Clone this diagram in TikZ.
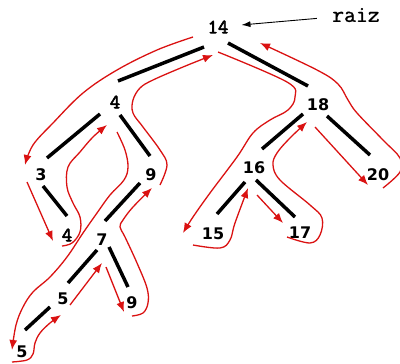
\documentclass[tikz,border=0pt]{standalone}
\usepackage{fontspec}
\setmainfont{DejaVu Sans}
\newfontfamily\keymono[FakeBold=3]{Latin Modern Mono}
\newfontfamily\labelmono[FakeBold=1]{Latin Modern Mono}
\usetikzlibrary{arrows.meta,positioning}
\definecolor{walkred}{RGB}{218,18,18}
\tikzstyle{key}=[inner sep=2pt,font=\fontsize{16}{18}\selectfont\bfseries]
\tikzstyle{mono key}=[key,font=\fontsize{20}{22}\selectfont\keymono]
\tikzstyle{tree edge}=[line width=3.5pt]
\tikzstyle{walk}=[walkred,line width=1.3pt,-{Latex[length=10pt,width=8pt]}]

\begin{document}
\begin{tikzpicture}[x=1pt,y=-1pt]
		\useasboundingbox (0,0) rectangle (400,364);

		% keys of the tree
		\node(n14)[mono key] at (218,27) {14};
		\node(n4a)[mono key] at (115,102) {4};
		\node(n18)[key] at (318,105) {18};
		\node(n3)[key] at (41,175) {3};
		\node(n9a)[key] at (151,175) {9};
		\node(n16)[key] at (254,168) {16};
		\node(n20)[key] at (378,175) {20};
		\node(n4b)[mono key] at (67,235) {4};
		\node(n7)[key] at (102,240) {7};
		\node(n15)[key] at (213,234) {15};
		\node(n17)[key] at (300,233) {17};
		\node(n5a)[key] at (63,299) {5};
		\node(n9b)[key] at (132,303) {9};
		\node(n5b)[key] at (22,352) {5};
		\node(raiz)[font=\fontsize{23}{24}\selectfont\labelmono] at (356,15) {raiz};

		\draw[-{Latex[length=9pt,width=6pt]},line width=0.9pt,shorten <=12pt,shorten >=11pt] (raiz) -- (n14);

		% edges, kept clear of the keys
		\draw[tree edge] ([shift={(-14,20)}]n14.center) -- ([shift={(3,-21)}]n4a.center);
		\draw[tree edge] ([shift={(10,16)}]n14.center) -- ([shift={(-10,-19)}]n18.center);
		\draw[tree edge] ([shift={(-15,12)}]n4a.center) -- ([shift={(6,-17)}]n3.center);
		\draw[tree edge] ([shift={(5,13)}]n4a.center) -- ([shift={(-1,-19)}]n9a.center);
		\draw[tree edge] ([shift={(-15,9)}]n18.center) -- ([shift={(8,-19)}]n16.center);
		\draw[tree edge] ([shift={(9,11)}]n18.center) -- ([shift={(-8,-20)}]n20.center);
		\draw[tree edge] ([shift={(2,11)}]n3.center) -- ([shift={(0,-19)}]n4b.center);
		\draw[tree edge] ([shift={(-11,8)}]n9a.center) -- ([shift={(3,-19)}]n7.center);
		\draw[tree edge] ([shift={(-9,14)}]n16.center) -- ([shift={(4,-20)}]n15.center);
		\draw[tree edge] ([shift={(2,12)}]n16.center) -- ([shift={(-5,-16)}]n17.center);
		\draw[tree edge] ([shift={(-5,10)}]n7.center) -- ([shift={(5,-16)}]n5a.center);
		\draw[tree edge] ([shift={(7,7)}]n7.center) -- ([shift={(-4,-16)}]n9b.center);
		\draw[tree edge] ([shift={(-13,8)}]n5a.center) -- ([shift={(3,-22)}]n5b.center);

		% walk round the tree
		\draw[walk] plot[smooth,tension=0.6] coordinates {(193,37) (157,50) (117,70) (83,93) (53,123) (33,145) (25,165)};
		\draw[walk] (27,182) -- (53,241);
		\draw[walk] plot[smooth,tension=0.6] coordinates {(62,246) (72,243) (80,232) (80,217) (73,203) (67,187) (68,167) (80,152) (93,137) (107,125)};
		\draw[walk] plot[smooth,tension=0.6] coordinates {(117,132) (125,150) (128,167) (124,180) (110,195) (97,213) (83,233) (67,257) (50,277) (33,292) (23,307) (16,325) (12,350)};
		\draw[walk] plot[smooth,tension=0.6] coordinates {(12,362) (27,360) (33,354) (35,343) (40,333) (50,323) (61,315)};
		\draw[walk] (70,305) -- (102,263);
		\draw[walk] (106,267) -- (124,312);
		\draw[walk] plot[smooth,tension=0.6] coordinates {(132,316) (143,313) (148,303) (147,288) (137,263) (125,237) (120,227) (123,220) (133,207) (152,188)};
		\draw[walk] plot[smooth,tension=0.6] coordinates {(160,185) (167,165) (160,150) (143,127) (133,113) (133,100) (140,88) (153,80) (183,67) (213,55)};
		\draw[walk] plot[smooth,tension=0.6] coordinates {(218,52) (287,82) (295,97) (288,110) (270,120) (253,133) (237,157) (210,193) (193,217) (183,233)};
		\draw[walk] plot[smooth,tension=0.6] coordinates {(193,245) (220,248) (230,240) (235,223) (248,188)};
		\draw[walk] (257,195) -- (283,223);
		\draw[walk] plot[smooth,tension=0.6] coordinates {(287,237) (310,243) (320,235) (322,218) (310,205) (280,180) (273,165) (277,153) (290,138) (307,122)};
		\draw[walk] (315,127) -- (368,185);
		\draw[walk] plot[smooth,tension=0.6] coordinates {(383,188) (400,172) (400,158) (383,140) (357,113) (348,100) (338,84) (317,70) (260,43)};
\end{tikzpicture}
\end{document}
